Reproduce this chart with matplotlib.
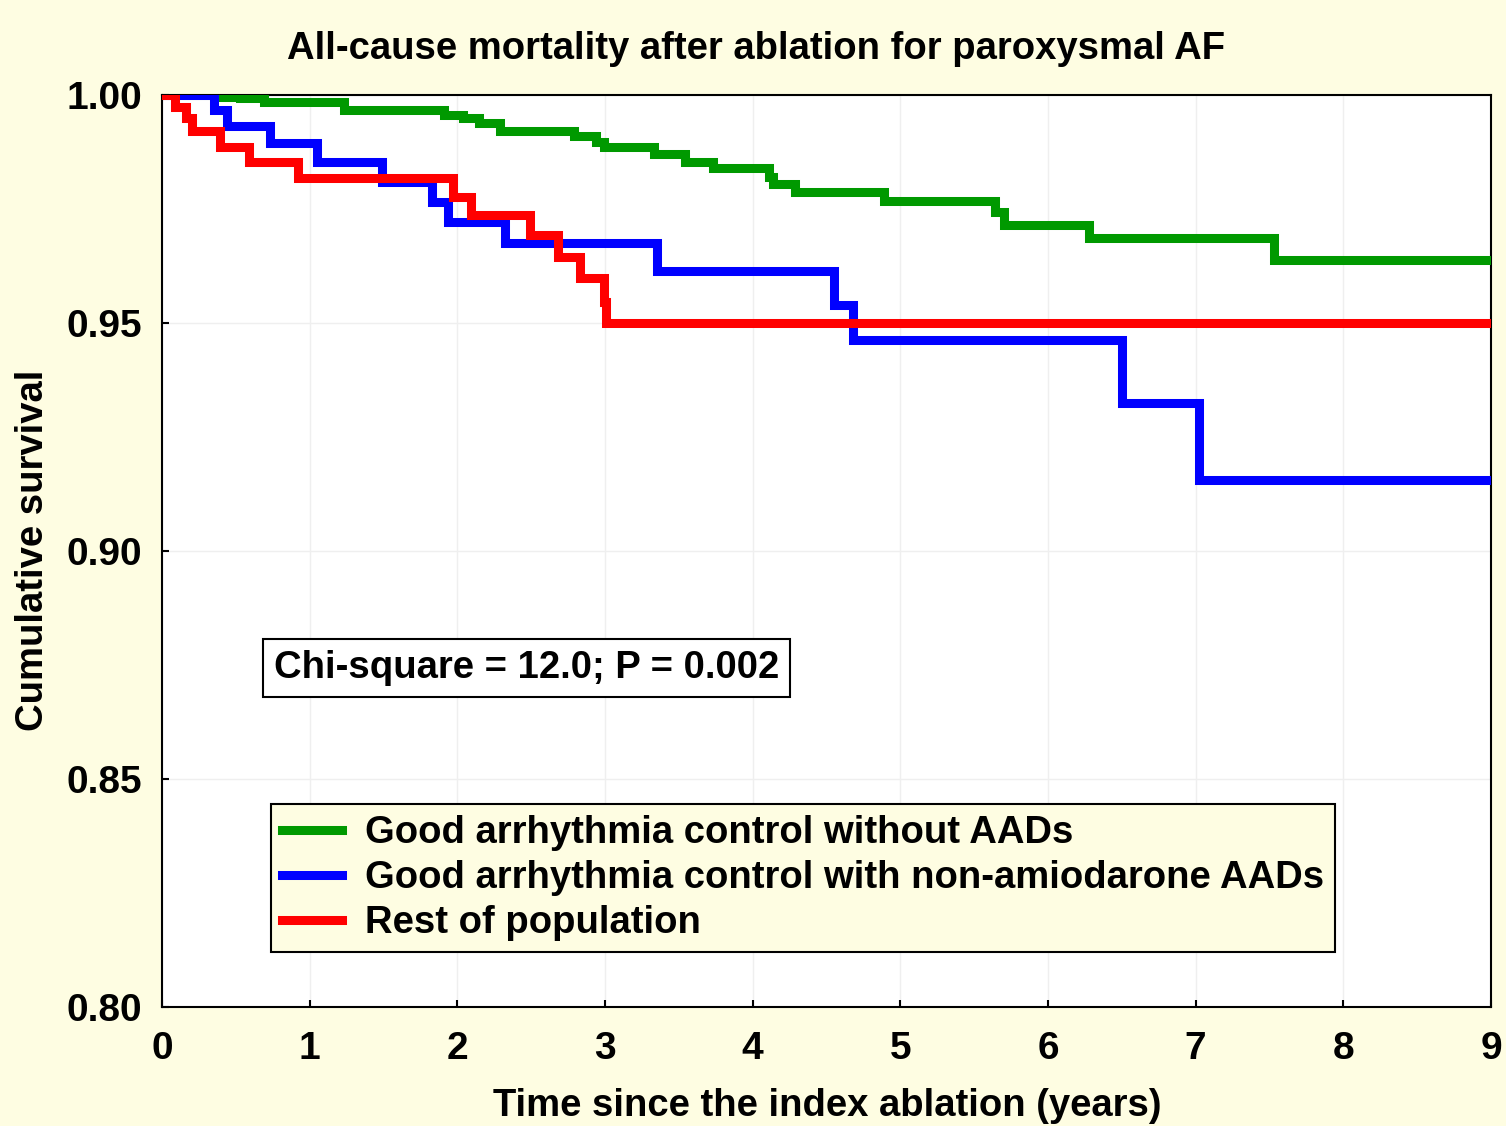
import matplotlib
matplotlib.use("Agg")
import matplotlib.pyplot as plt

plt.rcParams['font.family'] = ['Liberation Sans', 'DejaVu Sans']
plt.rcParams['font.weight'] = 'bold'

# Kaplan-Meier step data (time in years, survival after the step)
green_t = [0.0, 0.40, 0.53, 0.69, 1.23, 1.91, 2.04, 2.15, 2.29, 2.79, 2.94, 2.99, 3.33,
           3.54, 3.73, 4.11, 4.14, 4.29, 4.89, 5.64, 5.70, 6.28, 7.53, 9.0]
green_s = [1.0, 0.9995, 0.9993, 0.9985, 0.9967, 0.9956, 0.9949, 0.9938, 0.9920, 0.9909,
           0.9898, 0.9887, 0.9870, 0.9854, 0.9839, 0.9821, 0.9804, 0.9788, 0.9768, 0.9744,
           0.9716, 0.9687, 0.9638, 0.9638]

blue_t = [0.0, 0.35, 0.44, 0.73, 1.05, 1.49, 1.83, 1.94, 2.32, 3.35, 4.55, 4.68, 6.50, 7.02, 9.0]
blue_s = [1.0, 0.9967, 0.9931, 0.9894, 0.9854, 0.9810, 0.9766, 0.9722, 0.9675, 0.9613,
          0.9539, 0.9463, 0.9324, 0.9156, 0.9156]

red_t = [0.0, 0.09, 0.16, 0.20, 0.39, 0.59, 0.92, 1.97, 2.09, 2.49, 2.68, 2.83, 2.99, 3.01, 9.0]
red_s = [1.0, 0.9974, 0.9949, 0.9920, 0.9887, 0.9854, 0.9817, 0.9777, 0.9737, 0.9693,
         0.9645, 0.9598, 0.9547, 0.9500, 0.9500]

labels = ["Good arrhythmia control without AADs",
          "Good arrhythmia control with non-amiodarone AADs",
          "Rest of population"]
colors = ["#009900", "#0000FF", "#FF0000"]

x_ticks = list(range(0, 10))
y_ticks = [0.80, 0.85, 0.90, 0.95, 1.00]

FS = 27.5
bg = "#FEFDE2"
fig = plt.figure(figsize=(15.06, 11.26), dpi=100, facecolor=bg)
ax = fig.add_axes([162/1506, 1-1007/1126, (1491-162)/1506, (1007-95)/1126])
ax.set_facecolor("white")

for t, s, c, lab in zip([green_t, blue_t, red_t], [green_s, blue_s, red_s], colors, labels):
    ax.step(t, s, where='post', color=c, lw=6.5, label=lab, solid_joinstyle='miter', zorder=3)

ax.set_xlim(0, 9)
ax.set_ylim(0.80, 1.00)
ax.set_xticks(x_ticks)
ax.set_yticks(y_ticks)
ax.set_xticklabels([str(v) for v in x_ticks])
ax.set_yticklabels([f"{v:.2f}" for v in y_ticks])
ax.grid(True, color="#EFEFEF", lw=1, zorder=0)
ax.tick_params(direction='in', length=5, width=1.5, labelsize=28)
ax.tick_params(axis='y', pad=14)
ax.tick_params(axis='x', pad=17)
for lbl in ax.get_xticklabels() + ax.get_yticklabels():
    lbl.set_fontweight('bold')
for sp in ax.spines.values():
    sp.set_linewidth(1.5)

fig.text(756/1506, 1-49/1126, "All-cause mortality after ablation for paroxysmal AF",
         ha='center', va='center', fontsize=FS, fontweight='bold')
fig.text(33/1506, 1-550/1126, "Cumulative survival", rotation=90,
         ha='center', va='center', fontsize=FS, fontweight='bold')
fig.text(827/1506, 1-1106/1126, "Time since the index ablation (years)",
         ha='center', va='center', fontsize=FS, fontweight='bold')

ax.text(0.758, 0.8743, "Chi-square = 12.0; P = 0.002", ha='left', va='center',
        fontsize=FS, fontweight='bold', zorder=5,
        bbox=dict(boxstyle='square,pad=0.28', facecolor='white', edgecolor='black', lw=1.5))

leg = ax.legend(loc='lower left', bbox_to_anchor=((271-162)/(1491-162), (1007-952)/(1007-95)),
                fontsize=FS, frameon=True, fancybox=False, handlelength=1.58,
                handletextpad=0.6, borderpad=0.28, labelspacing=0.24, borderaxespad=0)
leg.get_frame().set_facecolor(bg)
leg.get_frame().set_edgecolor('black')
leg.get_frame().set_linewidth(1.5)
leg.get_frame().set_alpha(1)
for txt in leg.get_texts():
    txt.set_fontweight('bold')

fig.savefig("out.png", dpi=100, facecolor=bg)
